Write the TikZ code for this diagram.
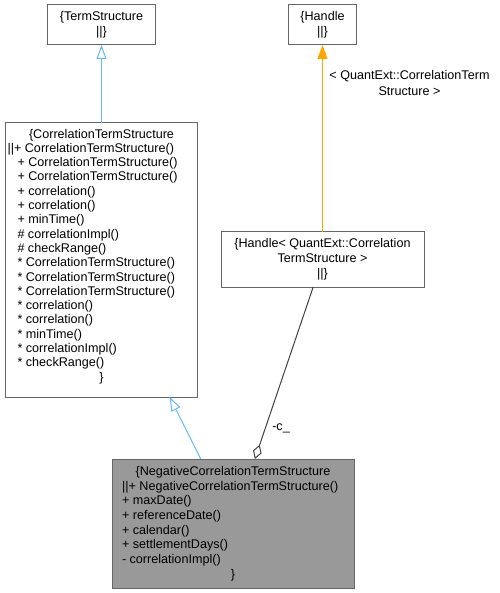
\documentclass[tikz,border=0pt]{standalone}
\usepackage{fontspec}
\setmainfont{Liberation Sans}
\usetikzlibrary{arrows.meta}
\definecolor{inhblue}{HTML}{63B8FF}
\definecolor{usorange}{HTML}{FFA500}
\definecolor{boxgray}{HTML}{666666}
\definecolor{compgray}{HTML}{404040}
\definecolor{curfill}{HTML}{999999}
\newcommand\myln[2]{\makebox[#1][l]{#2}}
\begin{document}
\begin{tikzpicture}[x=1pt,y=-1pt,
  cls/.style={draw=boxgray, line width=1pt, fill=white, inner sep=0pt, outer sep=0pt, align=center, font=\fontsize{12.6}{14.7}\selectfont},
  cur/.style={cls, fill=curfill},
  inh/.style={draw=inhblue, line width=1pt, -{Triangle[open,length=14pt,width=10pt]}},
  use/.style={draw=usorange, line width=1pt, -{Triangle[length=14pt,width=10pt]}},
  comp/.style={draw=compgray, line width=1pt, {Diamond[open,length=15pt,width=9pt]}-},
  lbl/.style={font=\fontsize{12.6}{15.5}\selectfont, align=center, inner sep=0pt}]
\useasboundingbox (0,0) rectangle (499,593);
\node[cls, minimum width=108pt, minimum height=40pt] (ts) at (101.5,25) {\{TermStructure\\||\}};
\node[cls, minimum width=68pt, minimum height=40pt] (h) at (322.5,25) {\{Handle\\||\}};
\node[cls, minimum width=192pt, minimum height=274pt, font=\fontsize{12.6}{14.3}\selectfont] (cts) at (101.5,260) {%
\{CorrelationTermStructure\\
\myln{168pt}{\hspace*{-10pt}||+ CorrelationTermStructure()}\\
\myln{168pt}{+ CorrelationTermStructure()}\\
\myln{168pt}{+ CorrelationTermStructure()}\\
\myln{168pt}{+ correlation()}\\
\myln{168pt}{+ correlation()}\\
\myln{168pt}{+ minTime()}\\
\myln{168pt}{\# correlationImpl()}\\
\myln{168pt}{\# checkRange()}\\
\myln{168pt}{* CorrelationTermStructure()}\\
\myln{168pt}{* CorrelationTermStructure()}\\
\myln{168pt}{* CorrelationTermStructure()}\\
\myln{168pt}{* correlation()}\\
\myln{168pt}{* correlation()}\\
\myln{168pt}{* minTime()}\\
\myln{168pt}{* correlationImpl()}\\
\myln{168pt}{* checkRange()}\\
\}\rule[-10pt]{0pt}{10pt}};
\node[cls, minimum width=203pt, minimum height=55pt, font=\fontsize{12.6}{15}\selectfont] (hq) at (322.5,259.5) {\{Handle< QuantExt::Correlation\\TermStructure >\\||\}};
\node[cur, minimum width=242pt, minimum height=129pt] (neg) at (233,523.5) {%
\{NegativeCorrelationTermStructure\\
\myln{222pt}{||+ NegativeCorrelationTermStructure()}\\
\myln{222pt}{+ maxDate()}\\
\myln{222pt}{+ referenceDate()}\\
\myln{222pt}{+ calendar()}\\
\myln{222pt}{+ settlementDays()}\\
\myln{222pt}{- correlationImpl()}\\
\}};
\draw[inh] (cts) -- (ts);
\draw[use] (hq) -- (h);
\node[lbl] (uselbl) at (409.5,83) {< QuantExt::CorrelationTerm\\Structure >};
\draw[inh] (neg) -- (cts);
\draw[comp] (neg) -- (hq);
\node[lbl] (complbl) at (281,428) {-c\_};
\end{tikzpicture}
\end{document}
